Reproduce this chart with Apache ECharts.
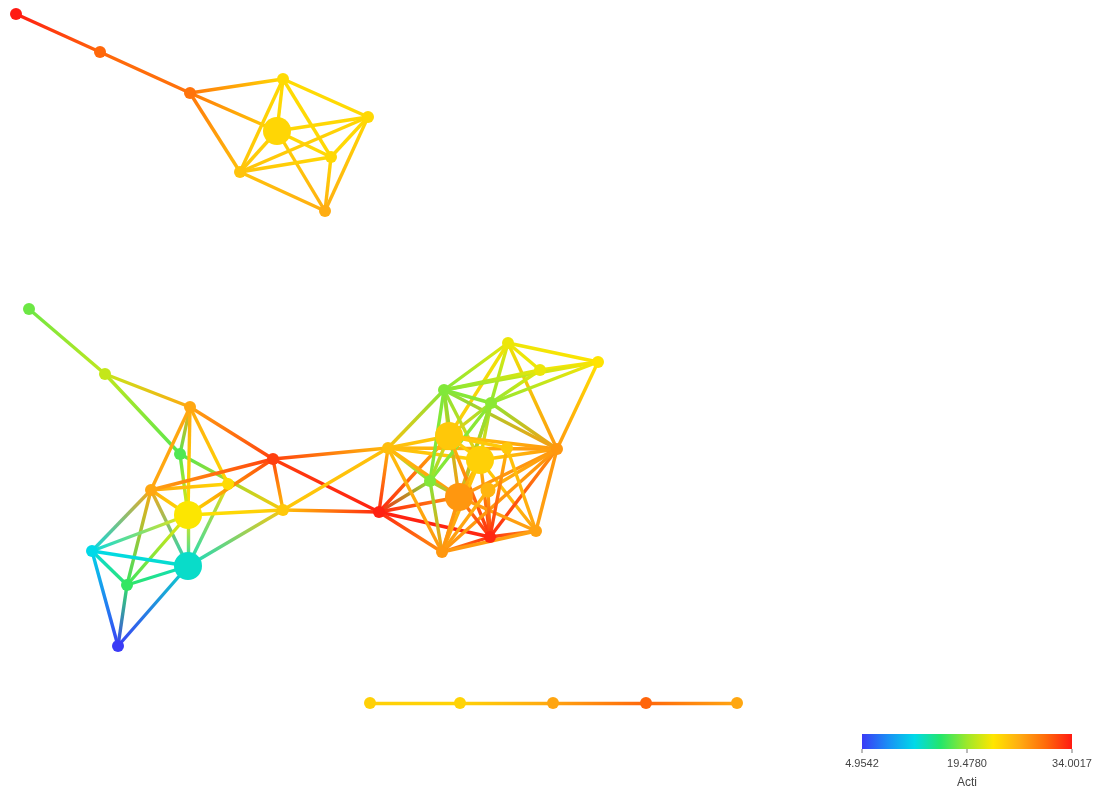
<!DOCTYPE html>
<html>
<head>
<meta charset="utf-8">
<script src="https://cdn.jsdelivr.net/npm/echarts@6/dist/echarts.min.js"></script>
<style>
  html, body { margin: 0; padding: 0; background: #fff; }
  #chart { width: 1095px; height: 797px; }
</style>
</head>
<body>
<div id="chart"></div>
<script>
// Colour scale of the node attribute "Acti"
const valueMin = 4.9542;
const valueMax = 34.0017;
const legendTicks = [4.9542, 19.4780, 34.0017];
const legendTitle = 'Acti';
const scaleColors = ['#3b3bf6', '#1a90f5', '#00d9e8', '#24e66a', '#9ee82a', '#ffe600', '#ffac12', '#ff6a0a', '#ff1a12'];

// Nodes: name, layout coordinates and Acti value
const nodeNames = [
  'T1', 'T2', 'T3', 'T4', 'T5', 'T6', 'T7', 'T8', 'T9',
  'L1', 'L2', 'L3', 'L4', 'L5', 'L6', 'L7', 'L8', 'L9', 'L10', 'L11', 'L12', 'L13',
  'M1', 'M2',
  'R1', 'R2', 'R3', 'R4', 'R5', 'R6', 'R7', 'R8', 'R9', 'R10', 'R11', 'R12', 'R13', 'R14', 'R15',
  'B1', 'B2', 'B3', 'B4', 'B5'
];
const nodeX = [
  16, 100, 190, 283, 277, 368, 331, 240, 325,
  29, 105, 190, 180, 151, 228, 188, 273, 283, 92, 188, 127, 118,
  379, 388,
  508, 598, 540, 444, 491, 449, 480, 557, 430, 459, 490, 442, 536, 488, 507,
  370, 460, 553, 646, 737
];
const nodeY = [
  14, 52, 93, 79, 131, 117, 157, 172, 211,
  309, 374, 407, 454, 490, 484, 515, 459, 510, 551, 566, 585, 646,
  512, 448,
  343, 362, 370, 390, 403, 436, 460, 449, 481, 497, 537, 552, 531, 490, 448,
  703, 703, 703, 703, 703
];
const nodeValues = [
  34.0017, 30.5, 29.9, 23.8, 24.1, 24.0, 24.0, 25.3, 26.7,
  18.0, 20.9, 27.0, 17.2, 27.0, 23.8, 23.0, 32.3, 25.0, 12.2, 13.1, 16.3, 4.9542,
  33.7, 25.6,
  22.4, 23.3, 22.4, 18.6, 18.9, 25.0, 24.5, 27.9, 18.6, 27.9, 33.4, 27.9, 27.3, 26.2, 25.0,
  24.5, 24.3, 27.1, 30.6, 27.0
];
// Hub nodes are drawn larger
const hubNodes = ['T5', 'L7', 'L11', 'R6', 'R7', 'R10'];
const midNodes = ['R14'];

// Edges
const edgeList = [
  ['T1', 'T2'], ['T2', 'T3'], ['T3', 'T4'], ['T3', 'T5'], ['T3', 'T8'],
  ['T4', 'T5'], ['T4', 'T6'], ['T4', 'T7'], ['T4', 'T8'],
  ['T5', 'T6'], ['T5', 'T7'], ['T5', 'T8'], ['T5', 'T9'],
  ['T6', 'T7'], ['T6', 'T9'], ['T6', 'T8'], ['T7', 'T8'], ['T7', 'T9'], ['T8', 'T9'],

  ['L1', 'L2'], ['L2', 'L3'], ['L2', 'L4'], ['L4', 'L9'],
  ['L3', 'L4'], ['L3', 'L5'], ['L3', 'L6'], ['L3', 'L7'], ['L3', 'L8'],
  ['L4', 'L7'], ['L5', 'L6'], ['L5', 'L7'], ['L5', 'L8'], ['L5', 'L10'], ['L5', 'L11'], ['L5', 'L12'],
  ['L6', 'L11'], ['L7', 'L8'], ['L7', 'L9'], ['L7', 'L10'], ['L7', 'L11'], ['L7', 'L12'],
  ['L8', 'L9'], ['L8', 'M2'], ['L8', 'M1'], ['L9', 'M1'], ['L9', 'M2'], ['L9', 'L11'],
  ['L10', 'L11'], ['L10', 'L12'], ['L10', 'L13'], ['L11', 'L12'], ['L11', 'L13'], ['L12', 'L13'],

  ['M1', 'M2'], ['M1', 'R6'], ['M1', 'R9'], ['M1', 'R10'], ['M1', 'R11'], ['M1', 'R12'],
  ['M2', 'R4'], ['M2', 'R6'], ['M2', 'R7'], ['M2', 'R8'], ['M2', 'R9'], ['M2', 'R10'], ['M2', 'R12'],

  ['R1', 'R2'], ['R1', 'R3'], ['R1', 'R4'], ['R1', 'R5'], ['R1', 'R8'], ['R1', 'R6'],
  ['R2', 'R3'], ['R2', 'R4'], ['R2', 'R5'], ['R2', 'R8'],
  ['R3', 'R4'], ['R3', 'R5'],
  ['R4', 'R5'], ['R4', 'R6'], ['R4', 'R7'], ['R4', 'R9'], ['R4', 'R10'], ['R4', 'R8'],
  ['R5', 'R6'], ['R5', 'R7'], ['R5', 'R8'], ['R5', 'R9'], ['R5', 'R10'], ['R5', 'R12'],
  ['R6', 'R7'], ['R6', 'R8'], ['R6', 'R9'], ['R6', 'R11'], ['R6', 'R15'],
  ['R7', 'R8'], ['R7', 'R10'], ['R7', 'R11'], ['R7', 'R12'], ['R7', 'R13'],
  ['R8', 'R10'], ['R8', 'R11'], ['R8', 'R12'], ['R8', 'R13'], ['R8', 'R14'],
  ['R9', 'R10'], ['R9', 'R12'],
  ['R10', 'R11'], ['R10', 'R12'], ['R10', 'R13'],
  ['R11', 'R12'], ['R11', 'R13'], ['R11', 'R14'], ['R11', 'R15'],
  ['R12', 'R13'], ['R12', 'R14'], ['R13', 'R15'],

  ['B1', 'B2'], ['B2', 'B3'], ['B3', 'B4'], ['B4', 'B5']
];

// ---- build the chart ----
const chart = echarts.init(document.getElementById('chart'), null, { renderer: 'canvas' });

function colorOf(v) {
  const t = Math.max(0, Math.min(1, (v - valueMin) / (valueMax - valueMin)));
  return echarts.color.lerp(t, scaleColors);
}

const nodeIndex = {};
nodeNames.forEach((n, i) => { nodeIndex[n] = i; });

const nodes = nodeNames.map((name, i) => ({
  name: name,
  x: nodeX[i],
  y: nodeY[i],
  value: nodeValues[i],
  symbolSize: hubNodes.includes(name) ? 28 : (midNodes.includes(name) ? 15 : 12)
}));

// Each edge fades from its source colour to its target colour
const links = edgeList.map(([s, t]) => {
  const a = nodeIndex[s], b = nodeIndex[t];
  const dx = nodeX[b] - nodeX[a], dy = nodeY[b] - nodeY[a];
  const horiz = Math.abs(dx) > 0.5, vert = Math.abs(dy) > 0.5;
  return {
    source: s,
    target: t,
    lineStyle: {
      color: {
        type: 'linear',
        x: horiz ? (dx > 0 ? 0 : 1) : 0,
        x2: horiz ? (dx > 0 ? 1 : 0) : 0,
        y: vert ? (dy > 0 ? 0 : 1) : 0,
        y2: vert ? (dy > 0 ? 1 : 0) : 0,
        colorStops: [
          { offset: 0, color: colorOf(nodeValues[a]) },
          { offset: 1, color: colorOf(nodeValues[b]) }
        ]
      }
    }
  };
});

// Legend colour bar
const barLeft = 862, barTop = 734, barWidth = 210, barHeight = 15;
const legendGraphics = [{
  type: 'rect',
  shape: { x: barLeft, y: barTop, width: barWidth, height: barHeight },
  style: {
    fill: new echarts.graphic.LinearGradient(0, 0, 1, 0,
      scaleColors.map((c, i) => ({ offset: i / (scaleColors.length - 1), color: c })))
  },
  silent: true
}];
legendTicks.forEach(v => {
  const x = barLeft + (v - valueMin) / (valueMax - valueMin) * barWidth;
  legendGraphics.push({
    type: 'line',
    shape: { x1: x, y1: barTop + barHeight, x2: x, y2: barTop + barHeight + 4 },
    style: { stroke: '#777', lineWidth: 1 },
    silent: true
  });
  legendGraphics.push({
    type: 'text',
    x: x, y: barTop + barHeight + 9,
    style: {
      text: v.toFixed(4), fill: '#444', font: '11px "Liberation Sans", Arial, sans-serif',
      align: 'center', verticalAlign: 'top'
    },
    silent: true
  });
});
legendGraphics.push({
  type: 'text',
  x: barLeft + barWidth / 2, y: 783,
  style: {
    text: legendTitle, fill: '#444', font: '12px "Liberation Sans", Arial, sans-serif',
    align: 'center', verticalAlign: 'middle'
  },
  silent: true
});

const xs = nodeX, ys = nodeY;
const minX = Math.min(...xs), maxX = Math.max(...xs), minY = Math.min(...ys), maxY = Math.max(...ys);

chart.setOption({
  backgroundColor: '#fff',
  animation: false,
  visualMap: {
    type: 'continuous',
    show: false,
    min: valueMin,
    max: valueMax,
    seriesIndex: 0,
    inRange: { color: scaleColors }
  },
  graphic: legendGraphics,
  series: [{
    type: 'graph',
    layout: 'none',
    left: minX,
    top: minY,
    width: maxX - minX,
    height: maxY - minY,
    roam: false,
    symbol: 'circle',
    data: nodes,
    links: links,
    label: { show: false },
    itemStyle: { borderWidth: 0 },
    lineStyle: { width: 3.4, opacity: 1, curveness: 0 },
    emphasis: { disabled: true }
  }]
});
</script>
</body>
</html>
